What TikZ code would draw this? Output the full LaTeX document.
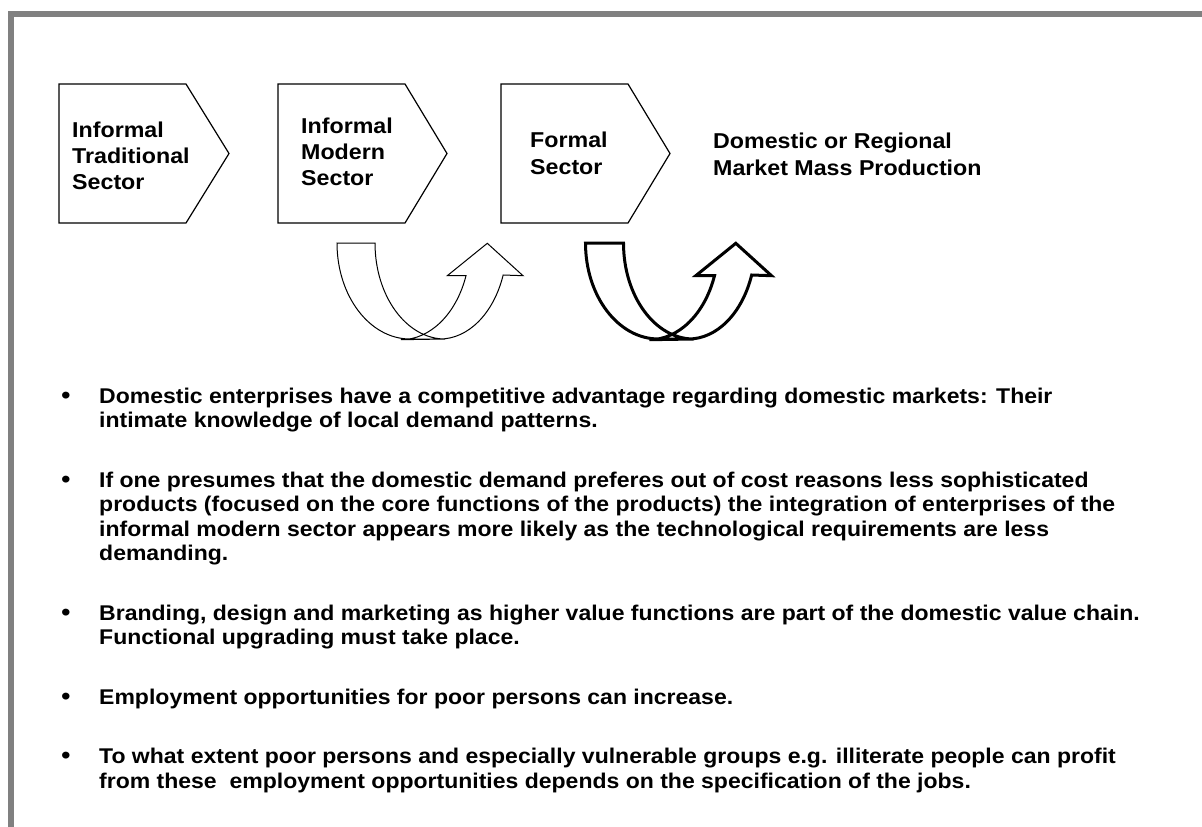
\documentclass[tikz,border=0pt]{standalone}
\usepackage{fontspec}
\setmainfont{Liberation Sans}[FakeStretch=1.08]
\definecolor{framegray}{HTML}{808080}
\begin{document}
\begin{tikzpicture}[x=1pt,y=-1pt,
  chev/.style={draw=black, line width=1.2pt, fill=white},
  lbl/.style={font=\fontsize{21.5}{26}\selectfont\bfseries, anchor=base west, inner sep=0pt},
  bul/.style={font=\fontsize{21.3}{24.5}\selectfont\bfseries, anchor=base west, inner sep=0pt},
  dot/.style={font=\fontsize{24}{24}\selectfont\bfseries, anchor=base, inner sep=0pt},
  uturn/.pic={
    \draw[pic actions] (0,0) arc[start angle=180,end angle=90,x radius=73,y radius=96]
      -- (103,96) arc[start angle=90,end angle=19.47,x radius=67,y radius=96]
      -- (186,32.7) -- (150.3,0.3) -- (110.3,32.7) -- (129,32.7)
      arc[start angle=19.47,end angle=90,x radius=69,y radius=96]
      -- (108,96) arc[start angle=90,end angle=180,x radius=70,y radius=96] -- cycle;
  }]
\useasboundingbox (0,0) rectangle (1202,827);
\fill[white] (0,0) rectangle (1202,827);
% frame
\fill[framegray] (8,11) rectangle (1202,17);
\fill[framegray] (8,11) rectangle (14,827);

% chevrons
\draw[chev] (59,84) -- (186,84) -- (229,153.5) -- (186,223) -- (59,223) -- cycle;
\draw[chev] (278,84) -- (405,84) -- (447,153.5) -- (405,223) -- (278,223) -- cycle;
\draw[chev] (501,84) -- (628,84) -- (670,153.5) -- (628,223) -- (501,223) -- cycle;

\node[lbl] (c1a) at (72,137) {Informal};
\node[lbl] (c1b) at (72,163) {Traditional};
\node[lbl] (c1c) at (72,189) {Sector};
\node[lbl] (c2a) at (301,133) {Informal};
\node[lbl] (c2b) at (301,159) {Modern};
\node[lbl] (c2c) at (301,185) {Sector};
\node[lbl] (c3a) at (530,147) {Formal};
\node[lbl] (c3b) at (530,174) {Sector};
\node[lbl] (d1) at (713,148) {Domestic or Regional};
\node[lbl] (d2) at (713,175) {Market Mass Production};

% u-turn arrows
\pic[draw=black, fill=white, line width=1pt] (ua) at (337,243) {uturn};
\pic[draw=black, fill=white, line width=3pt] (ub) at (585.5,243) {uturn};

% bullets
\node[dot] (p1) at (66,403) {•};
\node[bul] (b1a) at (99,403) {Domestic enterprises have a competitive advantage regarding domestic markets: Their};
\node[bul] (b1b) at (99,427.5) {intimate knowledge of local demand patterns.};

\node[dot] (p2) at (66,487) {•};
\node[bul] (b2a) at (99,487) {If one presumes that the domestic demand preferes out of cost reasons less sophisticated};
\node[bul] (b2b) at (99,511.5) {products (focused on the core functions of the products) the integration of enterprises of the};
\node[bul] (b2c) at (99,536) {informal modern sector appears more likely as the technological requirements are less};
\node[bul] (b2d) at (99,560.5) {demanding.};

\node[dot] (p3) at (66,620) {•};
\node[bul] (b3a) at (99,620) {Branding, design and marketing as higher value functions are part of the domestic value chain.};
\node[bul] (b3b) at (99,644.5) {Functional upgrading must take place.};

\node[dot] (p4) at (66,704) {•};
\node[bul] (b4a) at (99,704) {Employment opportunities for poor persons can increase.};

\node[dot] (p5) at (66,763.5) {•};
\node[bul] (b5a) at (99,763.5) {To what extent poor persons and especially vulnerable groups e.g. illiterate people can profit};
\node[bul] (b5b) at (99,788) {from these\ \ employment opportunities depends on the specification of the jobs.};
\end{tikzpicture}
\end{document}
